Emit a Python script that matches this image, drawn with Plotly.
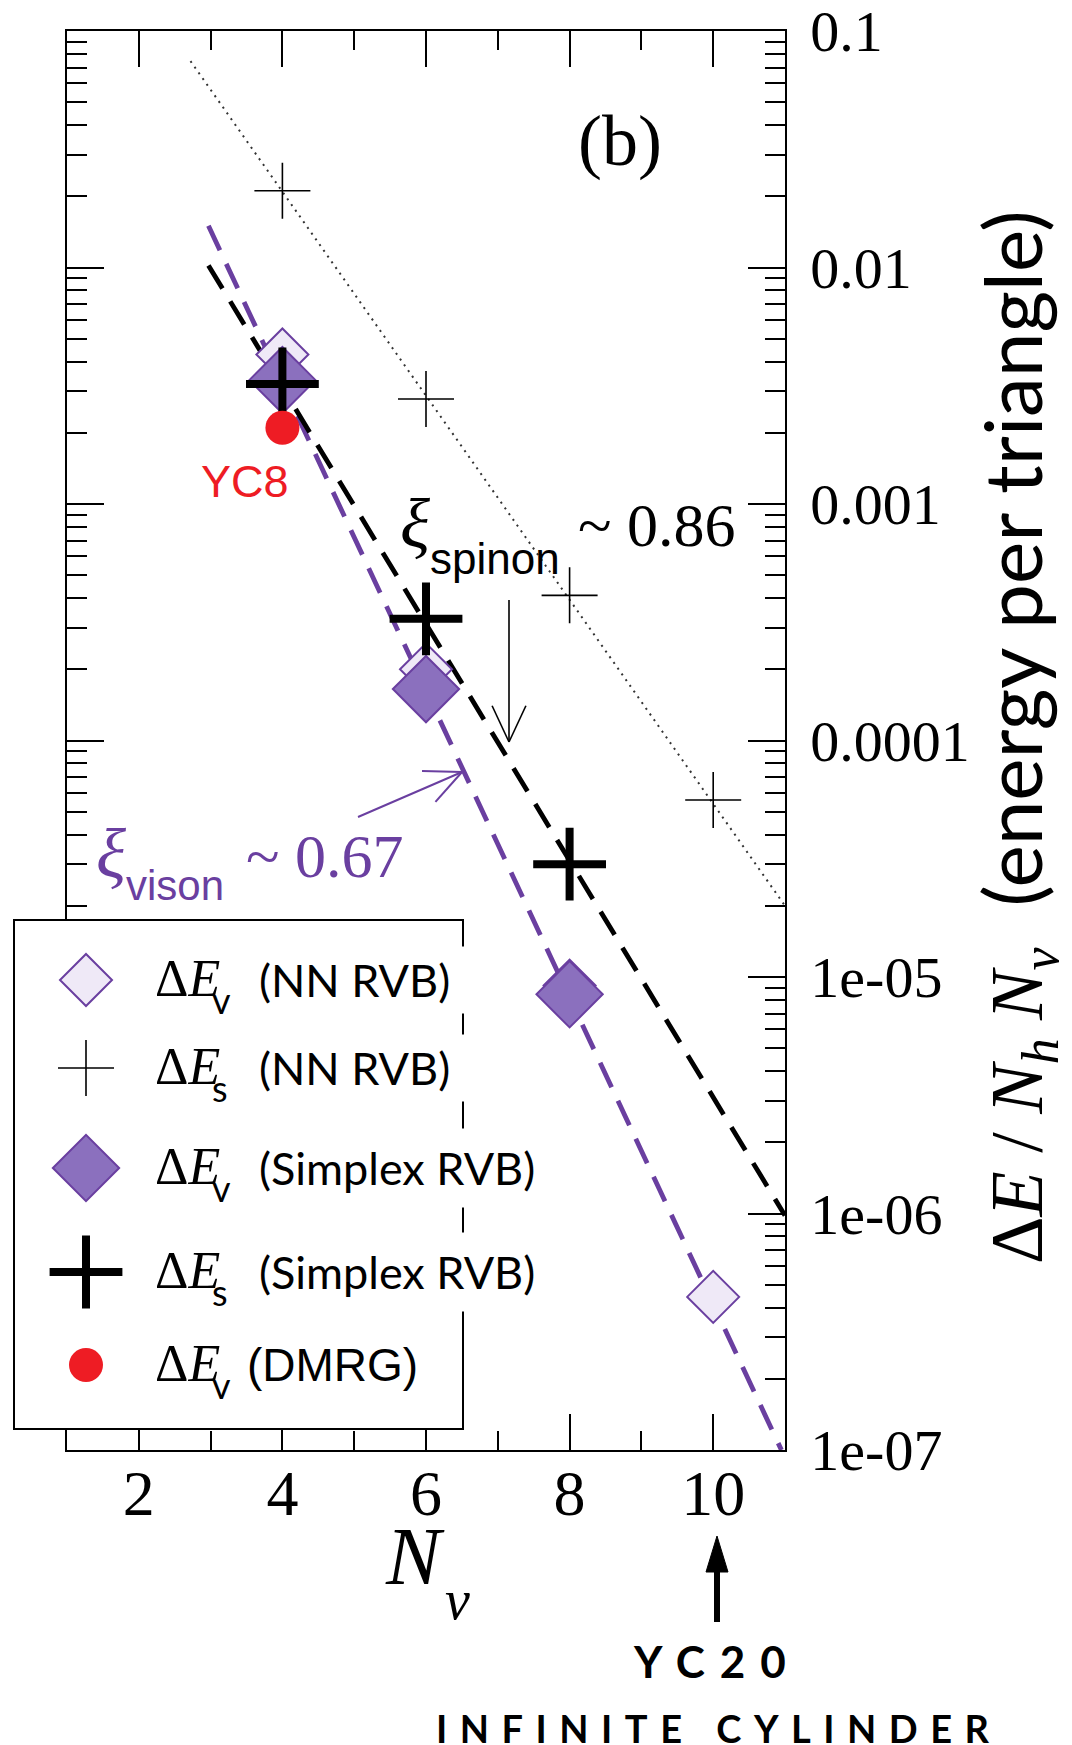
import math
import plotly.graph_objects as go

# ---------------- data ----------------
N_nn = [4, 6, 8, 10]
dE_s_nn = [0.0211, 0.00278, 4.11e-4, 5.6e-5]          # Delta E_s (NN RVB)
dE_v_nn = [0.00429, 2.0e-4, 9.2e-6, 4.44e-7]          # Delta E_v (NN RVB)
N_simplex = [4, 6, 8]
dE_v_simplex = [0.00334, 1.65e-4, 8.45e-6]            # Delta E_v (Simplex RVB)
dE_s_simplex = [0.00322, 3.27e-4, 3.0e-5]             # Delta E_s (Simplex RVB)
N_dmrg = [4]
dE_v_dmrg = [0.00210]                                  # Delta E_v (DMRG)

fit_nn_spinon_N = [2.72, 11.0]
fit_nn_spinon_E = [0.0746, 2.0e-5]
fit_spinon_N = [2.97, 11.0]
fit_spinon_E = [0.0102, 9.8e-7]
fit_vison_N = [2.97, 10.95]
fit_vison_E = [0.0150, 1.0e-7]

x_tickvals = [2, 4, 6, 8, 10]
y_tickvals = [1e-7, 1e-6, 1e-5, 1e-4, 1e-3, 1e-2, 1e-1]
y_ticktext = ["1e-07", "1e-06", "1e-05", "0.0001", "0.001", "0.01", "0.1"]
y_minor = [m * 10.0 ** e for e in range(-7, -1) for m in range(2, 10)]

legend_labels = ["(NN RVB)", "(NN RVB)", "(Simplex RVB)", "(Simplex RVB)", "(DMRG)"]
legend_subs = ["v", "s", "v", "s", "v"]

# ---------------- styling ----------------
PURPLE = "#6a3fa0"
RED = "#ee1c24"
SERIF = "Liberation Serif"
SANS = "Lato"

# the page body adds an 8px margin, so the figure is laid out 8px up/left
OFF = 8
W, H = 1056, 1737
ML, MR, MT, MB = 7, 279, 23, 295
PW = W - ML - MR
PH = H - MT - MB


def px(x):
    """page x pixel -> paper fraction"""
    return (x - OFF - ML) / PW


def py(y):
    """page y pixel -> paper fraction"""
    return (H - MB - (y - OFF)) / PH


fig = go.Figure()

# fit lines
fig.add_trace(go.Scatter(x=fit_nn_spinon_N, y=fit_nn_spinon_E, mode="lines",
                         line=dict(color="#333333", width=2, dash="2px,5px"),
                         showlegend=False))
fig.add_trace(go.Scatter(x=fit_vison_N, y=fit_vison_E, mode="lines",
                         line=dict(color=PURPLE, width=4.8, dash="27px,15px"),
                         showlegend=False))
fig.add_trace(go.Scatter(x=fit_spinon_N, y=fit_spinon_E, mode="lines",
                         line=dict(color="black", width=4.8, dash="27px,15px"),
                         showlegend=False))

# markers
sty_s_nn = dict(symbol="cross-thin", size=40, line=dict(color="black", width=1.6))
sty_v_nn = dict(symbol="diamond", size=40, color="#efe9f7", line=dict(color=PURPLE, width=2))
sty_v_sx = dict(symbol="diamond", size=51, color="#8b70be", line=dict(color=PURPLE, width=2))
sty_s_sx = dict(symbol="cross-thin", size=52, line=dict(color="black", width=8))
sty_dmrg = dict(symbol="circle", size=34, color=RED, line=dict(width=0))

fig.add_trace(go.Scatter(x=N_nn, y=dE_s_nn, mode="markers", marker=sty_s_nn, showlegend=False))
fig.add_trace(go.Scatter(x=N_nn, y=dE_v_nn, mode="markers", marker=sty_v_nn, showlegend=False))
fig.add_trace(go.Scatter(x=N_simplex, y=dE_v_simplex, mode="markers", marker=sty_v_sx, showlegend=False))
fig.add_trace(go.Scatter(x=N_simplex, y=dE_s_simplex, mode="markers", marker=sty_s_sx, showlegend=False))
fig.add_trace(go.Scatter(x=N_dmrg, y=dE_v_dmrg, mode="markers", marker=sty_dmrg, showlegend=False))

# ---------------- custom legend (own subplot, page-pixel ranges) ----------------
LEG_L, LEG_R, LEG_T, LEG_B = 15, 462, 920.5, 1428
row_y = [980, 1068, 1168, 1272, 1365]
leg_styles = [sty_v_nn, sty_s_nn, sty_v_sx, sty_s_sx, sty_dmrg]
for yy, st in zip(row_y, leg_styles):
    fig.add_trace(go.Scatter(x=[86], y=[yy], mode="markers", marker=st,
                             xaxis="x2", yaxis="y2", showlegend=False, cliponaxis=False))

annotations = []
shapes = []
for yy, lab, sub in zip(row_y, legend_labels, legend_subs):
    annotations.append(dict(xref="x2", yref="y2", x=153, y=yy - 2, xanchor="left", yanchor="middle",
                            text="Δ<i>E</i>", showarrow=False,
                            font=dict(family=SERIF, size=52, color="black")))
    annotations.append(dict(xref="x2", yref="y2", x=210, y=yy + 20, xanchor="left", yanchor="middle",
                            text=sub, showarrow=False,
                            font=dict(family=SANS, size=36, color="black")))
    if lab == "(DMRG)":
        annotations.append(dict(xref="x2", yref="y2", x=245, y=yy, xanchor="left", yanchor="middle",
                                text=lab, showarrow=False,
                                font=dict(family="Liberation Sans", size=46, color="black")))
    elif "Simplex" in lab:
        annotations.append(dict(xref="x2", yref="y2", x=246, y=yy, xanchor="left", yanchor="middle",
                                text=lab, showarrow=False, bgcolor="white", borderpad=12,
                                font=dict(family=SANS, size=45, color="black")))
    else:
        annotations.append(dict(xref="x2", yref="y2", x=252, y=yy, xanchor="left", yanchor="middle",
                                text=lab, showarrow=False, bgcolor="white", borderpad=6,
                                width=205, align="left",
                                font=dict(family=SANS, size=45, color="black")))

shapes.append(dict(type="rect", xref="x2", yref="y2", x0=LEG_L, x1=LEG_R, y0=LEG_T, y1=LEG_B,
                   fillcolor="white", line=dict(width=0), layer="below"))


def note(x, y, text, font, xanchor="center", yanchor="middle", **kw):
    return dict(xref="paper", yref="paper", x=px(x), y=py(y), text=text, showarrow=False,
                xanchor=xanchor, yanchor=yanchor, font=font, **kw)


annotations += [
    note(620, 141, "(b)", dict(family=SERIF, size=72, color="black")),
    note(245, 481, "YC8", dict(family="Liberation Sans", size=45, color=RED)),
    # xi spinon
    note(398, 523, "<i>ξ</i>", dict(family=SERIF, size=70, color="black"), xanchor="left"),
    note(428, 558, "spinon", dict(family="Liberation Sans", size=44, color="black"), xanchor="left"),
    note(576, 525, "~ 0.86", dict(family=SERIF, size=62, color="black"), xanchor="left"),
    # xi vison
    note(94, 853, "<i>ξ</i>", dict(family=SERIF, size=70, color=PURPLE), xanchor="left"),
    note(124, 886, "vison", dict(family="Liberation Sans", size=42, color=PURPLE), xanchor="left"),
    note(244, 856, "~ 0.67", dict(family=SERIF, size=62, color=PURPLE), xanchor="left"),
    # x title
    note(415, 1556, "<i>N</i>", dict(family=SERIF, size=82, color="black")),
    note(457, 1600, "<i>v</i>", dict(family=SERIF, size=56, color="black")),
    # y title (right side)
    note(1016, 737,
         ('<span style="font-family:Liberation Serif;font-size:74px">Δ<i>E</i> / '
          '<i>N<sub>h</sub> N<sub>v</sub></i></span>  (energy per triangle)'),
         dict(family=SANS, size=80, color="black"), textangle=-90),
    # bottom note
    note(717, 1661, '<b><span style="letter-spacing:15px">YC20</span></b>',
         dict(family=SANS, size=44, color="black")),
    note(718, 1728, '<b><span style="letter-spacing:12.5px">INFINITE CYLINDER</span></b>',
         dict(family=SANS, size=38, color="black")),
]


def arrow(tail, tip, color, width, head_len=40, half_angle=25):
    (x0, y0), (x1, y1) = tail, tip
    out = [dict(type="line", xref="paper", yref="paper", x0=px(x0), y0=py(y0), x1=px(x1), y1=py(y1),
                line=dict(color=color, width=width), layer="above")]
    ang = math.atan2(y0 - y1, x0 - x1)
    for s in (-1, 1):
        a = ang + s * math.radians(half_angle)
        hx, hy = x1 + head_len * math.cos(a), y1 + head_len * math.sin(a)
        out.append(dict(type="line", xref="paper", yref="paper", x0=px(x1), y0=py(y1),
                        x1=px(hx), y1=py(hy), line=dict(color=color, width=width), layer="above"))
    return out


shapes += arrow((509, 600), (509, 742), "black", 1.6)
shapes += arrow((358, 817), (462, 772), PURPLE, 2)
# thick bottom arrow
shapes.append(dict(type="line", xref="paper", yref="paper", x0=px(717), y0=py(1622), x1=px(717),
                   y1=py(1562), line=dict(color="black", width=6), layer="above"))
shapes.append(dict(type="path", xref="paper", yref="paper",
                   path=f"M{px(717)},{py(1536)} L{px(706)},{py(1572)} L{px(728)},{py(1572)} Z",
                   fillcolor="black", line=dict(color="black", width=1), layer="above"))

axis_common = dict(showline=True, linecolor="black", linewidth=1.5, mirror="allticks",
                   ticks="inside", tickcolor="black", tickwidth=1.5, showgrid=False, zeroline=False,
                   automargin=False, ticklabeloverflow="allow")

fig.update_layout(
    width=W, height=H,
    margin=dict(l=ML, r=MR, t=MT, b=MB, autoexpand=False),
    paper_bgcolor="white", plot_bgcolor="white",
    showlegend=False,
    xaxis=dict(domain=[px(67), 1], range=[1, 11], tickmode="array", tickvals=x_tickvals,
               ticklen=36, ticklabelstandoff=-14,
               minor=dict(ticks="inside", dtick=1, tick0=1, ticklen=19, tickwidth=1.5, tickcolor="black"),
               tickfont=dict(family=SERIF, size=64, color="black"), **axis_common),
    yaxis=dict(type="log", range=[-7, -1], side="right", tickmode="array", tickvals=y_tickvals,
               ticktext=y_ticktext, ticklen=37, ticklabelstandoff=12,
               minor=dict(ticks="inside", tickvals=y_minor, ticklen=20, tickwidth=1.5, tickcolor="black"),
               tickfont=dict(family=SERIF, size=58, color="black"), **axis_common),
    xaxis2=dict(domain=[0, px(LEG_R)], range=[LEG_L, LEG_R], anchor="y2", showline=True, mirror=True,
                linecolor="black", linewidth=1.5, ticks="", showticklabels=False, showgrid=False,
                zeroline=False, fixedrange=True),
    yaxis2=dict(domain=[py(LEG_B), py(LEG_T)], range=[LEG_B, LEG_T], anchor="x2", showline=True,
                mirror=True, linecolor="black", linewidth=1.5, ticks="", showticklabels=False,
                showgrid=False, zeroline=False, fixedrange=True),
    annotations=annotations,
    shapes=shapes,
)

fig.write_html("out.html")
